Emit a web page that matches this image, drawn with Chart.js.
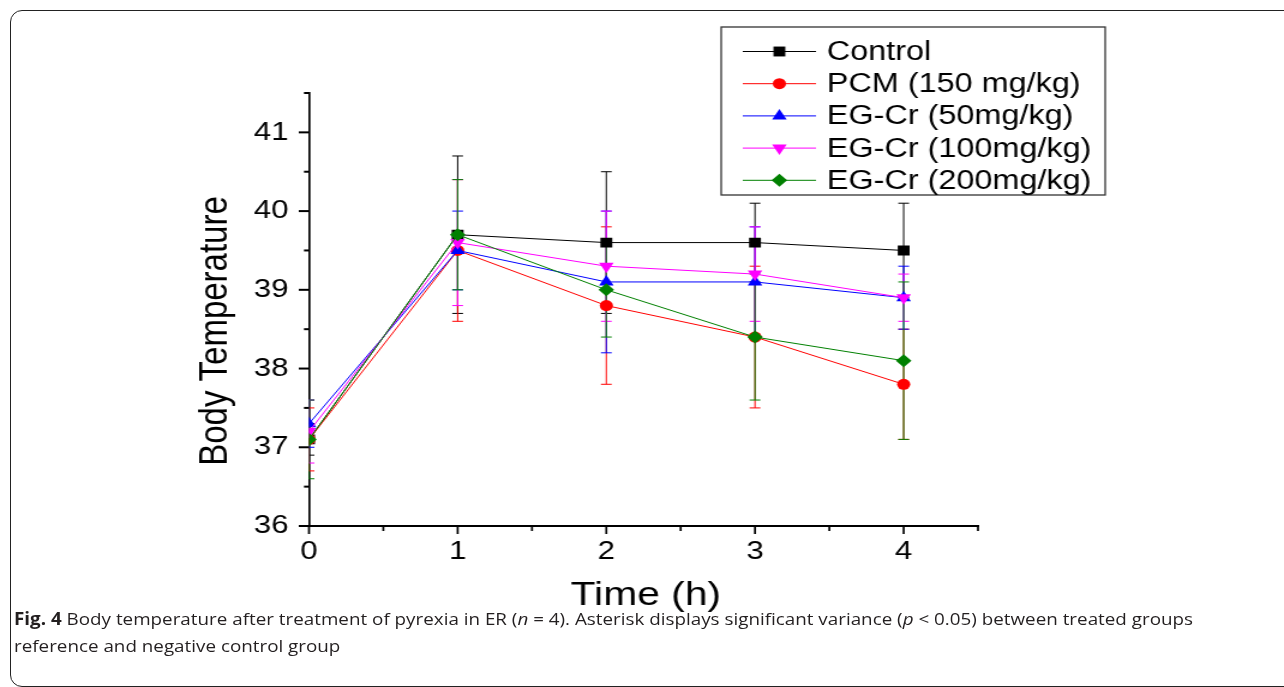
<!DOCTYPE html>
<html lang="en">
<head>
<meta charset="utf-8">
<title>Body temperature</title>
<script src="https://cdn.jsdelivr.net/npm/chart.js@4.4.1/dist/chart.umd.min.js"></script>
<style>
    html, body { margin: 0; padding: 0; background: #fff; }
    body { width: 1284px; height: 687px; position: relative; overflow: hidden; }
    #frame { position: absolute; left: 10px; top: 10px; width: 1320px; height: 675px;
             border: 1.5px solid #222; border-radius: 12px; }
    /* the figure is stretched sideways in the original, so the chart is drawn narrow and scaled */
    #wrap { position: absolute; left: 0; top: 0; width: 1070px; height: 687px;
            transform: scaleX(1.2); transform-origin: 0 0; }
    #caption { position: absolute; left: 14px; top: 605px; font-family: "Open Sans", "Noto Sans", sans-serif;
               font-size: 17px; line-height: 27px; color: #231f20; }
    #caption div { white-space: nowrap; transform-origin: 0 0; }
</style>
</head>
<body>
<div id="frame"></div>
<div id="wrap"><canvas id="graph" width="1070" height="687"></canvas></div>
<div id="caption">
    <div id="cap1"><b>Fig. 4</b> Body temperature after treatment of pyrexia in ER (<i>n</i> = 4). Asterisk displays significant variance (<i>p</i> &lt; 0.05) between treated groups</div>
    <div id="cap2">reference and negative control group</div>
</div>

<script>
// Data
var times = [0, 1, 2, 3, 4];
var seriesNames = ["Control", "PCM (150 mg/kg)", "EG-Cr (50mg/kg)", "EG-Cr (100mg/kg)", "EG-Cr (200mg/kg)"];
var controlTemp = [37.1, 39.7, 39.6, 39.6, 39.5];
var controlSd   = [0.2, 1.0, 0.9, 0.5, 0.6];
var pcmTemp     = [37.1, 39.5, 38.8, 38.4, 37.8];
var pcmSd       = [0.4, 0.9, 1.0, 0.9, 0.7];
var eg50Temp    = [37.3, 39.5, 39.1, 39.1, 38.9];
var eg50Sd      = [0.3, 0.5, 0.9, 0.7, 0.4];
var eg100Temp   = [37.2, 39.6, 39.3, 39.2, 38.9];
var eg100Sd     = [0.4, 0.8, 0.7, 0.6, 0.3];
var eg200Temp   = [37.1, 39.7, 39.0, 38.4, 38.1];
var eg200Sd     = [0.5, 0.7, 0.6, 0.8, 1.0];
var xTickLabels = ["0", "1", "2", "3", "4"];
var yTickLabels = ["36", "37", "38", "39", "40", "41"];

var FONT = "'Liberation Sans', Arial, sans-serif";

var styles = [
    { color: "#000000", point: "rect",     radius: 7,   rotation: 0 },
    { color: "#ff0000", point: "circle",   radius: 5.5, rotation: 0 },
    { color: "#0000ff", point: "triangle", radius: 7,   rotation: 0 },
    { color: "#ff00ff", point: "triangle", radius: 7,   rotation: 180 },
    { color: "#008000", point: "rectRot",  radius: 6.5, rotation: 0 }
];
var temps = [controlTemp, pcmTemp, eg50Temp, eg100Temp, eg200Temp];
var sds = [controlSd, pcmSd, eg50Sd, eg100Sd, eg200Sd];

function points(values) {
    return times.map(function(t, i) { return { x: t, y: values[i] }; });
}

var datasets = seriesNames.map(function(name, i) {
    var s = styles[i];
    return {
        label: name,
        data: points(temps[i]),
        borderColor: s.color,
        backgroundColor: s.color,
        borderWidth: 1,
        pointStyle: s.point,
        pointRadius: s.radius,
        pointRotation: s.rotation,
        pointBorderWidth: 0,
        pointBackgroundColor: s.color,
        tension: 0,
        clip: 0,
        order: seriesNames.length - 1 - i
    };
});

// error bars under the lines
var errorBars = {
    id: "errorBars",
    beforeDatasetsDraw: function(chart) {
        var ctx = chart.ctx, xs = chart.scales.x, ys = chart.scales.y, a = chart.chartArea;
        ctx.save();
        ctx.beginPath();
        ctx.rect(a.left, a.top, a.right - a.left, a.bottom - a.top);
        ctx.clip();
        ctx.lineWidth = 1;
        for (var i = 0; i < temps.length; i++) {
            ctx.strokeStyle = styles[i].color;
            for (var j = 0; j < times.length; j++) {
                var px = xs.getPixelForValue(times[j]);
                var top = ys.getPixelForValue(temps[i][j] + sds[i][j]);
                var bot = ys.getPixelForValue(temps[i][j] - sds[i][j]);
                ctx.beginPath();
                ctx.moveTo(px, top); ctx.lineTo(px, bot);
                ctx.moveTo(px - 4.5, top); ctx.lineTo(px + 4.5, top);
                ctx.moveTo(px - 4.5, bot); ctx.lineTo(px + 4.5, bot);
                ctx.stroke();
            }
        }
        ctx.restore();
    }
};

// outward major/minor ticks, axis titles and the boxed legend
var decorations = {
    id: "decorations",
    afterDraw: function(chart) {
        var ctx = chart.ctx, xs = chart.scales.x, ys = chart.scales.y, a = chart.chartArea;
        ctx.save();
        ctx.strokeStyle = "#000";
        var v, p, len;
        ctx.lineWidth = 2;
        for (v = ys.min; v <= ys.max + 0.001; v += 0.5) {
            p = ys.getPixelForValue(v);
            len = (v % 1 === 0) ? 8.5 : 4.2;
            ctx.beginPath(); ctx.moveTo(a.left - len, p); ctx.lineTo(a.left, p); ctx.stroke();
        }
        ctx.lineWidth = 1.7;
        for (v = xs.min; v <= xs.max + 0.001; v += 0.5) {
            p = xs.getPixelForValue(v);
            len = (v % 1 === 0) ? 8 : 5;
            ctx.beginPath(); ctx.moveTo(p, a.bottom); ctx.lineTo(p, a.bottom + len); ctx.stroke();
        }

        ctx.fillStyle = "#000";
        ctx.font = "34px " + FONT;
        ctx.textAlign = "center";
        ctx.textBaseline = "alphabetic";
        ctx.fillText("Time (h)", (a.left + a.right) / 2 + 2, 605);
        ctx.font = "33px " + FONT;
        ctx.save();
        ctx.translate(189, 331);
        ctx.rotate(-Math.PI / 2);
        ctx.fillText("Body Temperature", 0, 0);
        ctx.restore();

        // legend
        ctx.lineWidth = 1.3;
        ctx.strokeStyle = "#333";
        ctx.strokeRect(601, 27, 320, 168);
        ctx.font = "27px " + FONT;
        ctx.textAlign = "left";
        ctx.textBaseline = "middle";
        for (var i = 0; i < seriesNames.length; i++) {
            var y = 51.5 + i * 32.2;
            var s = styles[i];
            ctx.strokeStyle = s.color;
            ctx.fillStyle = s.color;
            ctx.lineWidth = 1;
            ctx.beginPath(); ctx.moveTo(619, y); ctx.lineTo(680, y); ctx.stroke();
            Chart.helpers.drawPoint(ctx, { pointStyle: s.point, radius: s.radius, rotation: s.rotation, borderWidth: 0 }, 649.5, y);
            ctx.fillStyle = "#000";
            ctx.fillText(seriesNames[i], 689, y + 1);
        }
        ctx.restore();
    }
};

var chart = new Chart(document.getElementById("graph").getContext("2d"), {
    type: "line",
    data: { datasets: datasets },
    plugins: [errorBars, decorations],
    options: {
        responsive: false,
        animation: false,
        events: [],
        layout: { padding: { left: 0, right: 255, top: 93, bottom: 0 } },
        plugins: { legend: { display: false }, tooltip: { enabled: false }, title: { display: false } },
        scales: {
            x: {
                type: "linear",
                min: 0,
                max: 4.5,
                grid: { display: false },
                border: { display: true, color: "#000", width: 2 },
                ticks: {
                    stepSize: 1,
                    includeBounds: false,
                    color: "#000",
                    font: { family: FONT, size: 26 },
                    padding: 2,
                    maxRotation: 0,
                    callback: function(value) { return xTickLabels[times.indexOf(value)]; }
                },
                afterFit: function(scale) { scale.height = 161; }
            },
            y: {
                type: "linear",
                min: 36,
                max: 41.5,
                grid: { display: false },
                border: { display: true, color: "#000", width: 1.7 },
                ticks: {
                    stepSize: 1,
                    includeBounds: false,
                    color: "#000",
                    font: { family: FONT, size: 26 },
                    padding: 9,
                    callback: function(value) { var k = yTickLabels.indexOf(String(value)); return k < 0 ? "" : yTickLabels[k]; }
                },
                afterFit: function(scale) { scale.width = 257.5; }
            }
        }
    }
});

// fit the caption's first line to the printed width
var cap1 = document.getElementById("cap1"), cap2 = document.getElementById("cap2");
var k = 1179 / cap1.getBoundingClientRect().width;
cap1.style.transform = "scaleX(" + k + ")";
cap2.style.transform = "scaleX(" + k + ")";
</script>
</body>
</html>
